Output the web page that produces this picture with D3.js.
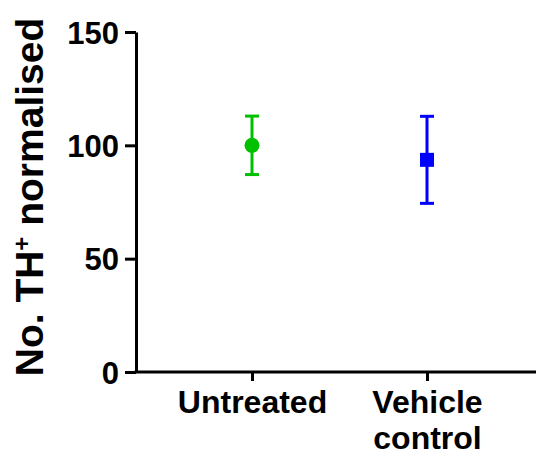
<!DOCTYPE html>
<html>
<head>
<meta charset="utf-8">
<script src="https://cdn.jsdelivr.net/npm/d3@7"></script>
<style>
  body { margin: 0; background: #fff; }
  svg { display: block; font-family: "Liberation Sans", Arial, sans-serif; font-weight: bold; }
</style>
</head>
<body>
<div id="chart"></div>
<script>
  // groups and their mean +/- error
  const groups = ["Untreated", "Vehicle control"];
  const means = [100, 93.6];
  const errors = [12.9, 19.2];
  const colors = ["#00c000", "#0000ff"];
  const yTicks = [0, 50, 100, 150];

  const width = 536;
  const height = 455;
  const axisX = 136;
  const axisY = 372;

  const svg = d3
    .select("#chart")
    .append("svg")
    .attr("width", width)
    .attr("height", height);

  const yScale = d3.scaleLinear().domain([0, 150]).range([axisY, 32]);
  const xScale = d3.scalePoint().domain(groups).range([252, 427]);

  // y axis
  const yAxis = svg
    .append("g")
    .attr("transform", `translate(${axisX}, 0)`)
    .call(d3.axisLeft(yScale).tickValues(yTicks).tickSize(11).tickPadding(6).tickSizeOuter(0));
  yAxis.select(".domain").attr("stroke-width", 3);
  yAxis.selectAll(".tick line").attr("stroke-width", 3);
  yAxis
    .selectAll(".tick text")
    .style("font-size", "31px")
    .style("font-weight", "bold")
    .attr("fill", "#000")
    .attr("dy", "0.36em");

  // x axis
  const xAxis = svg
    .append("g")
    .attr("transform", `translate(0, ${axisY})`)
    .call(d3.axisBottom(xScale).tickSize(9).tickSizeOuter(0).tickFormat(""));
  xAxis.select(".domain").remove();
  xAxis.selectAll(".tick line").attr("stroke-width", 3);
  xAxis
    .append("line")
    .attr("x1", axisX - 1.5)
    .attr("x2", width)
    .attr("stroke", "#000")
    .attr("stroke-width", 3);

  // x labels, split on the space for the two-line one
  xAxis
    .selectAll(".tick")
    .append("text")
    .attr("fill", "#000")
    .attr("text-anchor", "middle")
    .style("font-size", "32px")
    .selectAll("tspan")
    .data((d) => (d === "Untreated" ? [d] : d.split(" ")))
    .join("tspan")
    .attr("x", 0)
    .attr("y", (d, i) => 41 + i * 36)
    .text((d) => d);

  // y label
  const yLabel = svg
    .append("text")
    .attr("transform", `translate(43, 197) rotate(-90)`)
    .attr("text-anchor", "middle")
    .style("font-size", "39px")
    .attr("fill", "#000");
  yLabel.append("tspan").text("No. TH");
  yLabel
    .append("tspan")
    .attr("baseline-shift", "super")
    .style("font-size", "24px")
    .text("+");
  yLabel.append("tspan").text(" normalised");

  // error bars
  const bars = svg
    .selectAll(".errbar")
    .data(groups)
    .join("g")
    .attr("class", "errbar")
    .attr("stroke", (d, i) => colors[i])
    .attr("stroke-width", 3);

  bars
    .append("line")
    .attr("x1", (d) => xScale(d))
    .attr("x2", (d) => xScale(d))
    .attr("y1", (d, i) => yScale(means[i] + errors[i]))
    .attr("y2", (d, i) => yScale(means[i] - errors[i]));

  [1, -1].forEach((sign) => {
    bars
      .append("line")
      .attr("x1", (d) => xScale(d) - 7)
      .attr("x2", (d) => xScale(d) + 7)
      .attr("y1", (d, i) => yScale(means[i] + sign * errors[i]))
      .attr("y2", (d, i) => yScale(means[i] + sign * errors[i]));
  });

  // markers: circle for untreated, square for vehicle
  svg
    .append("circle")
    .attr("cx", xScale(groups[0]))
    .attr("cy", yScale(means[0]))
    .attr("r", 7.5)
    .attr("fill", colors[0]);

  svg
    .append("rect")
    .attr("x", xScale(groups[1]) - 7)
    .attr("y", yScale(means[1]) - 7)
    .attr("width", 14)
    .attr("height", 14)
    .attr("fill", colors[1]);
</script>
</body>
</html>
